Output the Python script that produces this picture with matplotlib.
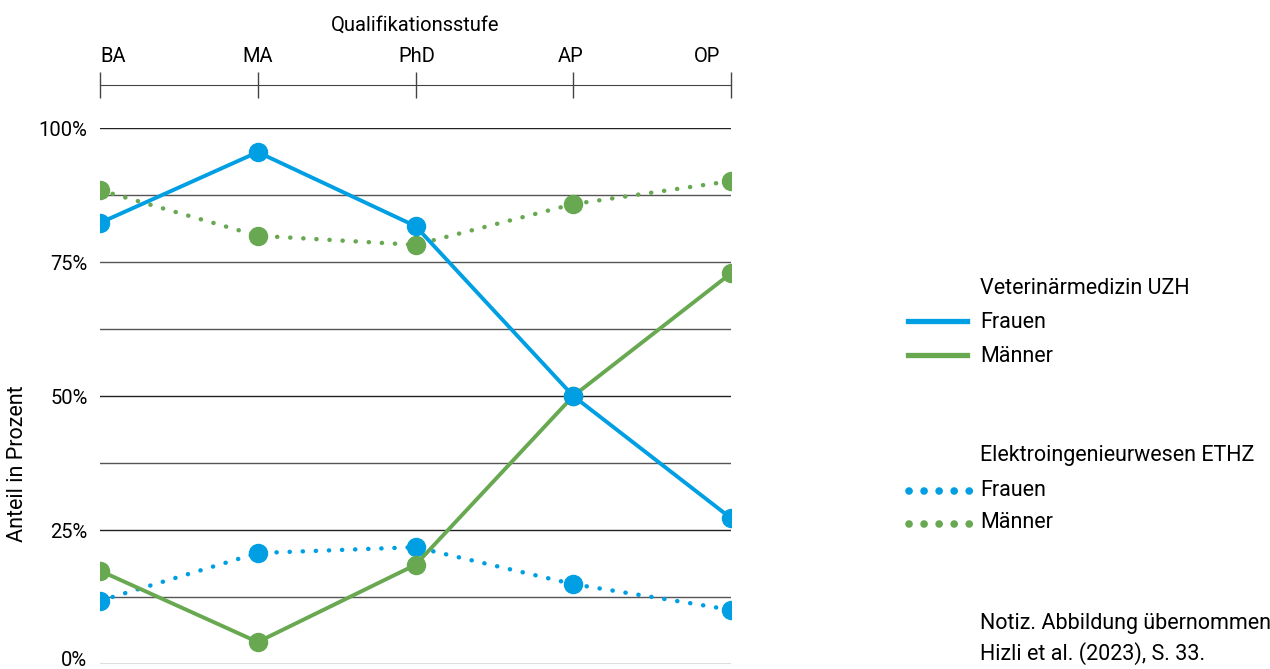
import numpy as np
import matplotlib
matplotlib.use("Agg")
import matplotlib.pyplot as plt
import matplotlib.transforms as mtransforms
from matplotlib.lines import Line2D

plt.rcParams['font.family'] = ['Roboto', 'DejaVu Sans']

# Daten
stufen = ["BA", "MA", "PhD", "AP", "OP"]
vet_frauen = [82.3, 95.5, 81.7, 50.0, 27.2]
vet_maenner = [17.4, 4.1, 18.5, 50.0, 72.9]
eth_frauen = [11.8, 20.7, 21.8, 14.9, 10.1]
eth_maenner = [88.4, 79.9, 78.2, 85.8, 90.1]
y_ticks = [0, 25, 50, 75, 100]
y_tick_labels = ["0%", "25%", "50%", "75%", "100%"]

BLAU = "#009FE3"
GRUEN = "#67A851"
PUNKT = (0, (0.05, 2.9))

W, H = 1270, 669
fig = plt.figure(figsize=(12.7, 6.69), dpi=100)
ax = fig.add_axes([100 / W, 5 / H, 631 / W, 536 / H])

x = np.arange(len(stufen))

ax.plot(x, eth_maenner, color=GRUEN, lw=3.2, ls=PUNKT, dash_capstyle='round',
        marker='o', ms=13, zorder=3)
ax.plot(x, eth_frauen, color=BLAU, lw=3.2, ls=PUNKT, dash_capstyle='round',
        marker='o', ms=13, zorder=3)
ax.plot(x, vet_maenner, color=GRUEN, lw=2.8, marker='o', ms=13, zorder=4)
ax.plot(x, vet_frauen, color=BLAU, lw=2.8, marker='o', ms=13, zorder=4)

# Gitterlinien
for g in np.arange(0, 101, 12.5):
    ax.axhline(g, color="#222222" if g in (25, 50, 100) else "#555555", lw=1, zorder=1)

ax.set_xlim(0, 4)
ax.set_ylim(0, 100)
ax.set_yticks(y_ticks)
ax.set_yticklabels(y_tick_labels, fontsize=14.5)
ax.tick_params(axis='y', length=0, pad=9)
# 0% etwas anheben, damit es nicht abgeschnitten wird
lbl0 = ax.get_yticklabels()[0]
lbl0.set_transform(lbl0.get_transform() + mtransforms.ScaledTranslation(0, 6 / 100, fig.dpi_scale_trans))

for s in ["left", "right", "bottom"]:
    ax.spines[s].set_visible(False)
ax.spines["top"].set_position(("outward", 31))
ax.spines["top"].set_color("#444444")
ax.xaxis.tick_top()
ax.set_xticks(x)
ax.set_xticklabels([])
ax.tick_params(axis='x', direction='inout', length=19, width=1, color="#444444")

# Beschriftung oben
offsets = [13, 0, 1, -3, -24]
for i, lab in enumerate(stufen):
    ax.annotate(lab, xy=(x[i], 1), xycoords=("data", "axes fraction"),
                xytext=(offsets[i], 72), textcoords="offset pixels",
                ha="center", va="center", fontsize=14.5, annotation_clip=False)
fig.text(415 / W, 1 - 25 / H, "Qualifikationsstufe", ha="center", va="center", fontsize=14.5)
fig.text(18 / W, 1 - 464 / H, "Anteil in Prozent", rotation=90, ha="center", va="center",
         fontsize=15.5)

# Legende
tx = 980 / W
fs = 15.5
fig.text(tx, 1 - 289 / H, "Veterinärmedizin UZH", va="center", fontsize=fs)
fig.text(tx, 1 - 323 / H, "Frauen", va="center", fontsize=fs)
fig.text(tx, 1 - 356 / H, "Männer", va="center", fontsize=fs)
fig.add_artist(Line2D([908 / W, 967 / W], [1 - 321 / H] * 2, color=BLAU, lw=3.8))
fig.add_artist(Line2D([908 / W, 967 / W], [1 - 355 / H] * 2, color=GRUEN, lw=3.8))

fig.text(tx, 1 - 456 / H, "Elektroingenieurwesen ETHZ", va="center", fontsize=fs)
fig.text(tx, 1 - 490 / H, "Frauen", va="center", fontsize=fs)
fig.text(tx, 1 - 523 / H, "Männer", va="center", fontsize=fs)
fig.add_artist(Line2D([909 / W, 972 / W], [1 - 491 / H] * 2, color=BLAU, lw=5.5,
                      ls=(0, (0.01, 1.96)), dash_capstyle='round'))
fig.add_artist(Line2D([909 / W, 972 / W], [1 - 524 / H] * 2, color=GRUEN, lw=5.5,
                      ls=(0, (0.01, 1.96)), dash_capstyle='round'))

fig.text(tx, 1 - 623 / H, "Notiz. Abbildung übernommen", va="center", fontsize=fs)
fig.text(tx, 1 - 654 / H, "Hizli et al. (2023), S. 33.", va="center", fontsize=fs)

fig.savefig("out.png", dpi=100)
